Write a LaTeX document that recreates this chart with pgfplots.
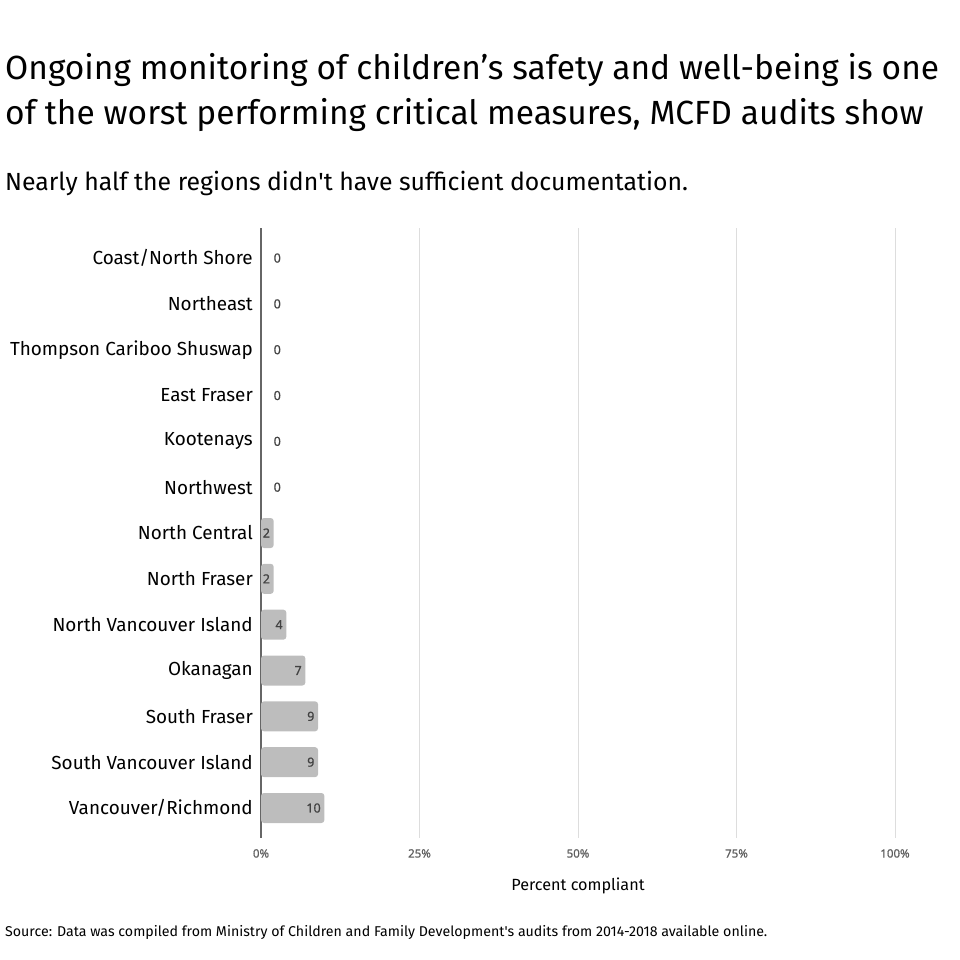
\documentclass[border=0pt]{standalone}
\usepackage{fontspec}
\setmainfont{Fira Sans}
\newfontfamily\numfont{Noto Sans}[FakeBold=0.8]
\usepackage{pgfplots}
\pgfplotsset{compat=1.18}
\definecolor{bargray}{HTML}{BDBDBD}
\definecolor{valtext}{HTML}{424242}
\definecolor{ticktext}{HTML}{5F5F5F}
\definecolor{gridgray}{HTML}{DDDDDD}
\definecolor{axisgray}{HTML}{666666}
\begin{document}
\begin{tikzpicture}
\useasboundingbox (0pt,0pt) rectangle (960pt,-960pt);
% titles
\node[anchor=base west, inner sep=0pt, font=\fontsize{33.5}{40}\selectfont] at (5pt,-80pt)
  {Ongoing monitoring of children’s safety and well-being is one};
\node[anchor=base west, inner sep=0pt, font=\fontsize{33.5}{40}\selectfont] at (5pt,-125pt)
  {of the worst performing critical measures, MCFD audits show};
\node[anchor=base west, inner sep=0pt, font=\fontsize{24.8}{30}\selectfont] at (5pt,-190pt)
  {Nearly half the regions didn\textquotesingle t have sufficient documentation.};
\begin{axis}[
    at={(261pt,-838pt)}, anchor=south west,
    scale only axis, width=634pt, height=610pt,
    xbar, bar width=30pt,
    xmin=0, xmax=100,
    ymin=-0.655, ymax=12.655, y dir=reverse,
    axis y line*=left, axis x line*=bottom,
    x axis line style={draw=none},
    y axis line style={draw=axisgray, line width=1.2pt},
    /pgf/number format/assume math mode=true,
    xtick={0,25,50,75,100},
    xticklabels={0\%,25\%,50\%,75\%,100\%},
    xmajorgrids, grid style={draw=gridgray, line width=1pt},
    major tick length=0pt,
    xticklabel style={font=\numfont\fontsize{11.5}{13}\selectfont, text=ticktext, inner sep=0pt, anchor=north, yshift=-11pt},
    ytick={0,...,12},
    yticklabels={Coast/North Shore, Northeast, Thompson Cariboo Shuswap, East Fraser, Kootenays, Northwest, North Central, North Fraser, North Vancouver Island, Okanagan, South Fraser, South Vancouver Island, Vancouver/Richmond},
    yticklabel style={font=\fontsize{18.9}{23}\selectfont, text=black, inner sep=0pt, anchor=east, xshift=-8pt},
    xlabel={Percent compliant},
    xlabel style={at={(axis description cs:0.5,0)}, anchor=base, yshift=-52pt, font=\fontsize{16.2}{20}\selectfont},
    clip=false,
]
\addplot[fill=bargray, draw=none, bar shift=0pt, rounded corners=3pt,
    nodes near coords,
    every node near coord/.append style={anchor=east, xshift=-3.5pt, inner sep=0pt, font=\numfont\fontsize{12.5}{14}\selectfont, text=valtext}]
  coordinates {(2,6) (2,7) (4,8) (7,9) (9,10) (9,11) (10,12)};
\addplot[draw=none, bar shift=0pt,
    nodes near coords,
    every node near coord/.append style={anchor=west, xshift=12.5pt, inner sep=0pt, font=\numfont\fontsize{12.5}{14}\selectfont, text=valtext}]
  coordinates {(0,0) (0,1) (0,2) (0,3) (0,4) (0,5)};
\end{axis}
\node[anchor=base west, inner sep=0pt, font=\fontsize{14.2}{17}\selectfont] at (5pt,-936pt)
  {Source: Data was compiled from Ministry of Children and Family Development\textquotesingle s audits from 2014-2018 available online.};
\end{tikzpicture}
\end{document}
